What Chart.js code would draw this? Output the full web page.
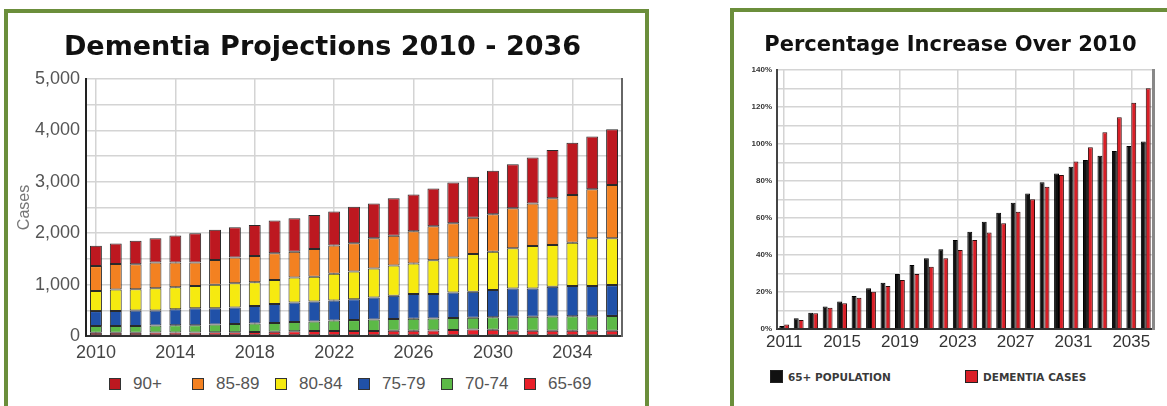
<!DOCTYPE html>
<html>
<head>
<meta charset="utf-8">
<title>Dementia Projections</title>
<script src="https://cdn.jsdelivr.net/npm/chart.js@4.4.0/dist/chart.umd.min.js"></script>
<style>
  body {
    margin: 0;
    width: 1167px;
    height: 406px;
    overflow: hidden;
    position: relative;
    background: #ffffff;
    font-family: "Liberation Sans", Arial, sans-serif;
  }
  .panel {
    position: absolute;
    box-sizing: border-box;
    border: 4px solid #6b8e3b;
    border-bottom: none;
  }
  #leftPanel { left: 4px; top: 9px; width: 645px; height: 400px; }
  #rightPanel { left: 730px; top: 8px; width: 460px; height: 400px; border-right: none; }
  .chartBox { position: absolute; }
  #leftBox { left: 8px; top: 13px; width: 637px; height: 352px; }
  #rightBox { left: 734px; top: 12px; width: 433px; height: 343px; }
  .legend {
    position: absolute;
    list-style: none;
    margin: 0;
    padding: 0;
    display: flex;
  }
  .legend li { display: flex; align-items: center; }
  .legend .box { display: inline-block; box-sizing: border-box; }
  #legendLeft { left: 109px; top: 374px; }
  #legendLeft li { width: 83px; font-size: 17px; color: #555; }
  #legendLeft .box { width: 12px; height: 12px; border: 1px solid #333; margin-right: 12px; }
  #legendRight { left: 770px; top: 370px; }
  #legendRight li { width: 195px; font-family: "DejaVu Sans", sans-serif; font-weight: bold; font-size: 10.5px; color: #3a3a3a; }
  #legendRight .box { width: 13px; height: 13px; border: 1px solid #222; margin-right: 5px; }
</style>
</head>
<body>
<div class="panel" id="leftPanel"></div>
<div class="panel" id="rightPanel"></div>
<div class="chartBox" id="leftBox"><canvas id="chartCases"></canvas></div>
<div class="chartBox" id="rightBox"><canvas id="chartIncrease"></canvas></div>
<ul class="legend" id="legendLeft"></ul>
<ul class="legend" id="legendRight"></ul>

<script>
// Left chart: dementia cases by age group (stacked)
const years = ["2010", "2011", "2012", "2013", "2014", "2015", "2016", "2017", "2018",
  "2019", "2020", "2021", "2022", "2023", "2024", "2025", "2026", "2027", "2028",
  "2029", "2030", "2031", "2032", "2033", "2034", "2035", "2036"];
const age6569 = [65, 65, 65, 70, 70, 70, 75, 75, 80, 85, 90, 95, 95, 95, 95, 100, 100, 105, 115, 125, 120, 100, 100, 100, 100, 100, 100];
const age7074 = [130, 130, 130, 135, 140, 140, 150, 160, 165, 170, 180, 185, 205, 215, 225, 230, 235, 235, 235, 230, 245, 275, 275, 280, 285, 285, 290];
const age7579 = [290, 290, 300, 290, 310, 330, 315, 320, 340, 370, 380, 390, 390, 405, 430, 455, 480, 475, 495, 505, 530, 550, 550, 580, 590, 590, 600];
const age8084 = [390, 420, 415, 435, 430, 435, 455, 470, 460, 465, 490, 485, 520, 540, 565, 585, 595, 660, 680, 735, 745, 780, 825, 810, 840, 925, 910];
const age8589 = [485, 495, 485, 500, 480, 455, 485, 500, 510, 520, 500, 540, 550, 550, 585, 580, 630, 660, 670, 705, 730, 780, 830, 910, 930, 955, 1040];
const age90p = [395, 400, 460, 470, 525, 570, 585, 590, 605, 635, 650, 660, 660, 710, 680, 730, 715, 735, 790, 800, 845, 855, 895, 940, 1015, 1025, 1080];

// Right chart: percentage increase over 2010
const increaseYears = ["2011", "2012", "2013", "2014", "2015", "2016", "2017", "2018",
  "2019", "2020", "2021", "2022", "2023", "2024", "2025", "2026", "2027", "2028",
  "2029", "2030", "2031", "2032", "2033", "2034", "2035", "2036"];
const pop65Increase = [1.6, 5.8, 8.8, 12.1, 14.8, 17.8, 22.0, 25.0, 29.7, 34.6, 38.2, 43.1, 48.1, 52.6, 58.0, 62.9, 68.3, 73.3, 79.3, 84.1, 87.7, 91.4, 93.7, 96.2, 98.9, 101.3];
const casesIncrease = [2.5, 4.9, 8.5, 11.5, 13.9, 16.9, 20.2, 23.2, 26.5, 29.7, 33.7, 38.2, 42.7, 48.1, 52.1, 57.1, 63.4, 70.1, 76.9, 83.2, 90.5, 98.2, 106.3, 114.4, 122.3, 130.1];

const gridColor = "#d4d4d4";
Chart.defaults.font.family = "'Liberation Sans', Arial, sans-serif";
Chart.defaults.animation = false;

// bottom-up stacking order
const ageGroups = [
  { label: "65-69", data: age6569, color: "#e8202a" },
  { label: "70-74", data: age7074, color: "#5cb947" },
  { label: "75-79", data: age7579, color: "#2051a8" },
  { label: "80-84", data: age8084, color: "#f6ea10" },
  { label: "85-89", data: age8589, color: "#f38121" },
  { label: "90+", data: age90p, color: "#bd1820" },
];

const everyFourth = (c) => (c.index % 4 === 0 ? gridColor : "rgba(0,0,0,0)");

new Chart(document.getElementById("chartCases"), {
  type: "bar",
  data: {
    labels: years,
    datasets: ageGroups.map((g) => ({
      label: g.label,
      data: g.data,
      backgroundColor: g.color,
      borderColor: "#2a2a2a",
      borderWidth: 1,
      borderSkipped: false,
      categoryPercentage: 1,
      barPercentage: 0.6,
    })),
  },
  options: {
    responsive: true,
    maintainAspectRatio: false,
    layout: { padding: { left: 0, right: 8, top: 0, bottom: 0 } },
    plugins: {
      legend: { display: false },
      tooltip: { enabled: false },
      title: {
        display: true,
        text: "Dementia Projections 2010 - 2036",
        color: "#111111",
        font: { family: "'DejaVu Sans', sans-serif", size: 27, weight: "bold" },
        padding: { top: 19, bottom: 14.6 },
      },
    },
    scales: {
      x: {
        stacked: true,
        grid: { offset: false, drawTicks: false, color: everyFourth, lineWidth: 1.5 },
        border: { color: "#333333", width: 2 },
        ticks: {
          autoSkip: false,
          maxRotation: 0,
          padding: 6,
          color: "#444444",
          font: { size: 18 },
          callback: function (value, index) {
            return index % 4 === 0 ? this.getLabelForValue(value) : "";
          },
        },
        afterFit: (scale) => { scale.height = 29; },
      },
      y: {
        stacked: true,
        min: 0,
        max: 5000,
        grid: { drawTicks: false, color: gridColor, lineWidth: 1.5 },
        border: { color: "#222222", width: 2 },
        ticks: {
          stepSize: 500,
          padding: 6,
          color: "#555555",
          font: { size: 18 },
          callback: (v) => (v % 1000 === 0 ? v.toLocaleString("en-US") : ""),
        },
        title: {
          display: true,
          text: "Cases",
          color: "#777777",
          font: { size: 16 },
          padding: { top: 7, bottom: 0 },
        },
        afterFit: (scale) => { scale.width = 78; },
      },
      yRight: {
        position: "right",
        min: 0,
        max: 5000,
        grid: { display: false, drawTicks: false },
        ticks: { display: false },
        border: { color: "#666666", width: 2 },
        afterFit: (scale) => { scale.width = 15; },
      },
    },
  },
});

new Chart(document.getElementById("chartIncrease"), {
  type: "bar",
  data: {
    labels: increaseYears,
    datasets: [
      {
        label: "65+ POPULATION",
        data: pop65Increase,
        backgroundColor: "#111111",
        borderColor: "#000000",
        borderWidth: 1,
      },
      {
        label: "DEMENTIA CASES",
        data: casesIncrease,
        backgroundColor: "#d91f27",
        borderColor: "#2e0a0a",
        borderWidth: 1,
      },
    ],
  },
  options: {
    responsive: true,
    maintainAspectRatio: false,
    categoryPercentage: 0.68,
    barPercentage: 1,
    layout: { padding: { left: 0, right: 0, top: 0, bottom: 0 } },
    plugins: {
      legend: { display: false },
      tooltip: { enabled: false },
      title: {
        display: true,
        text: "Percentage Increase Over 2010",
        color: "#111111",
        font: { family: "'DejaVu Sans', sans-serif", size: 21, weight: "bold" },
        padding: { top: 21, bottom: 11.8 },
      },
    },
    scales: {
      x: {
        grid: { offset: false, drawTicks: false, color: everyFourth, lineWidth: 1.5 },
        border: { color: "#333333", width: 2 },
        ticks: {
          autoSkip: false,
          maxRotation: 0,
          padding: 3,
          color: "#333333",
          font: { size: 17 },
          callback: function (value, index) {
            return index % 4 === 0 ? this.getLabelForValue(value) : "";
          },
        },
        afterFit: (scale) => { scale.height = 26; },
      },
      y: {
        min: 0,
        max: 140,
        grid: { drawTicks: false, color: gridColor, lineWidth: 1.5 },
        border: { color: "#444444", width: 2 },
        ticks: {
          stepSize: 10,
          padding: 5,
          color: "#333333",
          font: { size: 8, weight: "bold" },
          callback: (v) => (v % 20 === 0 ? v + "%" : ""),
        },
        afterFit: (scale) => { scale.width = 43; },
      },
      yRight: {
        position: "right",
        min: 0,
        max: 140,
        grid: { display: false, drawTicks: false },
        ticks: { display: false },
        border: { color: "#888888", width: 3 },
        afterFit: (scale) => { scale.width = 14; },
      },
    },
  },
});

// HTML legends
function populateLegend(legendEl, items) {
  legendEl.innerHTML = items
    .map(
      (item) => `
        <li><span class="box" style="background-color: ${item.color}"></span>${item.label}</li>`
    )
    .join("");
}

populateLegend(document.getElementById("legendLeft"), ageGroups.slice().reverse());
populateLegend(document.getElementById("legendRight"), [
  { label: "65+ POPULATION", color: "#111111" },
  { label: "DEMENTIA CASES", color: "#d91f27" },
]);
</script>
</body>
</html>
